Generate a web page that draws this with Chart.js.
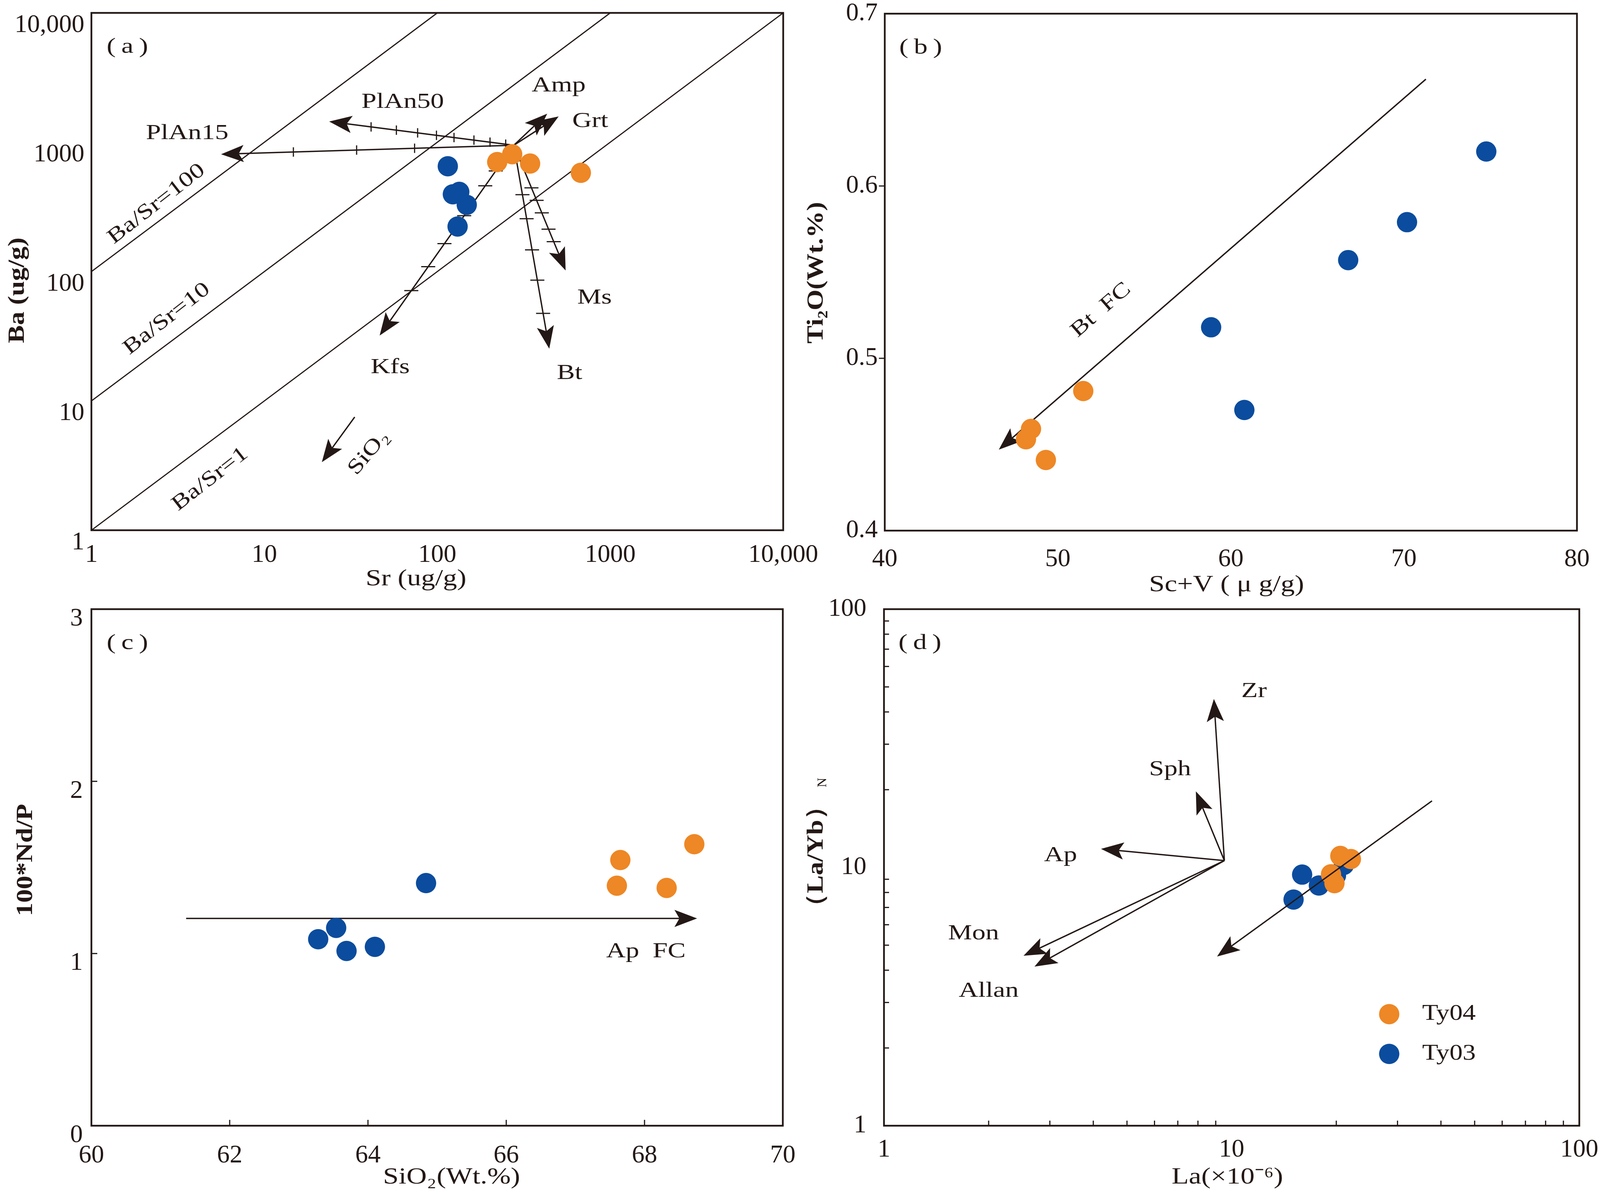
<!DOCTYPE html>
<html>
<head>
<meta charset="utf-8">
<script src="https://cdn.jsdelivr.net/npm/chart.js@4.4.1/dist/chart.umd.min.js"></script>
<style>
html, body { margin: 0; padding: 0; background: #fff; }
#wrap { position: relative; width: 4109px; height: 3066px; background: #fff; overflow: hidden; }
canvas { position: absolute; }
</style>
</head>
<body>
<div id="wrap">
  <canvas id="ca" width="2200" height="1533" style="left:0;top:0;width:2200px;height:1533px"></canvas>
  <canvas id="cb" width="2055" height="1533" style="left:2054px;top:0;width:2055px;height:1533px"></canvas>
  <canvas id="cc" width="2054" height="1533" style="left:0;top:1533px;width:2054px;height:1533px"></canvas>
  <canvas id="cd" width="2055" height="1533" style="left:2054px;top:1533px;width:2055px;height:1533px"></canvas>
</div>
<script>
var SERIF = '"Liberation Serif", "Times New Roman", serif';
Chart.defaults.font.family = SERIF;
Chart.defaults.color = '#231815';

var INK = '#231815';
var ORANGE = '#EE8725';
var BLUE = '#0B4C9E';

// ---- (a) Sr vs Ba ----
var aTicks = [1, 10, 100, 1000, 10000];
var aTickLabels = ['1', '10', '100', '1000', '10,000'];
var aTy04Sr = [222, 271, 344, 676];
var aTy04Ba = [703, 808, 684, 580];
var aTy03Sr = [115, 123, 134, 148, 131];
var aTy03Ba = [652, 396, 413, 328, 223];
var aRatios = [1, 10, 100];
var aVecStart = [277, 948];
var aVecNames = ['PlAn15', 'PlAn50', 'Amp', 'Grt', 'Kfs', 'Bt', 'Ms'];
var aVecEndSr = [5.62, 23.7, 432, 503, 46.4, 444, 552];
var aVecEndBa = [808, 1446, 1663, 1583, 32.0, 25.3, 102];
var aVecTicks = [
  [0.339, 0.537, 0.753],
  [0.044, 0.129, 0.216, 0.324, 0.419, 0.521, 0.636, 0.773],
  [], [],
  [0.135, 0.213, 0.37, 0.517, 0.638, 0.764],
  [0.243, 0.361, 0.514, 0.663, 0.826],
  [0.34, 0.44, 0.54, 0.67, 0.77]
];
var aLabelText = ['PlAn15', 'PlAn50', 'Amp', 'Grt', 'Kfs', 'Bt', 'Ms', 'Ba/Sr=100', 'Ba/Sr=10', 'Ba/Sr=1', 'SiO₂'];
var aLabelSr = [3.58, 63.1, 503, 766, 53.4, 582, 811, 2.38, 2.73, 4.86, 40.1];
var aLabelBa = [1167, 2032, 2735, 1446, 18.1, 16.3, 62.6, 333, 43.1, 2.48, 3.97];
var aLabelRot = [0, 0, 0, 0, 0, 0, 0, -38, -38, -38, -50];
var aSiO2Arrow = [33.3, 7.51, 21.5, 3.36];

// ---- (b) Sc+V vs TiO2 ----
var bXTicks = [40, 50, 60, 70, 80];
var bYTicks = [0.4, 0.5, 0.6, 0.7];
var bTy04X = [51.47, 48.45, 48.16, 49.31];
var bTy04Y = [0.481, 0.459, 0.453, 0.441];
var bTy03X = [58.86, 60.78, 66.78, 70.18, 74.76];
var bTy03Y = [0.518, 0.470, 0.557, 0.579, 0.620];
var bArrow = [71.27, 0.662, 46.59, 0.447];
var bLabel = ['Bt  FC', 52.5, 0.528, -41];

// ---- (c) SiO2 vs 100*Nd/P ----
var cXTicks = [60, 62, 64, 66, 68, 70];
var cYTicks = [0, 1, 2, 3];
var cTy04X = [67.65, 67.60, 68.32, 68.72];
var cTy04Y = [1.543, 1.394, 1.381, 1.635];
var cTy03X = [63.28, 63.54, 63.69, 64.10, 64.84];
var cTy03Y = [1.083, 1.149, 1.015, 1.039, 1.409];
var cArrow = [61.37, 1.204, 68.76, 1.204];
var cLabel = ['Ap  FC', 68.02, 1.01, 0];

// ---- (d) La vs (La/Yb)N ----
var dTicks = [1, 10, 100];
var dMinor = [2, 3, 4, 5, 6, 7, 8, 9, 20, 30, 40, 50, 60, 70, 80, 90];
var dTy04La = [20.54, 22.03, 19.31, 19.76];
var dTy04LaYb = [11.08, 10.78, 9.41, 8.69];
var dTy03La = [15.95, 17.82, 15.07, 19.96, 21.03];
var dTy03LaYb = [9.38, 8.51, 7.51, 9.31, 10.23];
var dFanStart = [9.53, 10.63];
var dFanNames = ['Zr', 'Sph', 'Ap', 'Mon', 'Allan'];
var dFanEndLa = [8.89, 7.89, 4.21, 2.52, 2.71];
var dFanEndLaYb = [44.9, 19.7, 11.8, 4.55, 4.13];
var dFanLabelLa = [11.6, 6.65, 3.22, 1.81, 2.0];
var dFanLabelLaYb = [48.0, 23.9, 11.1, 5.53, 3.32];
var dTrend = [37.7, 18.1, 9.08, 4.52];

function pts(xs, ys) {
  return xs.map(function (x, i) { return { x: x, y: ys[i] }; });
}

function dots(label, xs, ys, color) {
  return {
    label: label, data: pts(xs, ys),
    pointRadius: 26, pointHoverRadius: 26,
    pointBackgroundColor: color, pointBorderWidth: 0, borderColor: color
  };
}

function axis(which, a) {
  return {
    type: a.log ? 'logarithmic' : 'linear',
    position: which === 'x' ? 'bottom' : 'left',
    min: a.min, max: a.max,
    grid: { display: false, drawTicks: false },
    border: { display: false },
    ticks: {
      font: { family: SERIF, size: 65 }, color: INK, padding: a.pad, autoSkip: false, maxRotation: 0,
      labelOffset: a.shift || 0,
      callback: function (v, i) { return a.labels[i]; }
    },
    afterBuildTicks: function (s) { s.ticks = a.ticks.map(function (v) { return { value: v }; }); },
    afterFit: function (s) {
      if (which === 'x') s.height = a.size; else s.width = a.size;
      s.paddingLeft = 0; s.paddingRight = 0; s.paddingTop = 0; s.paddingBottom = 0;
    },
    title: { display: false }
  };
}

function txt(ctx, t, x, y, rotDeg, font, hs) {
  ctx.save();
  ctx.translate(x, y);
  ctx.rotate((rotDeg || 0) * Math.PI / 180);
  ctx.scale(hs || 1, 1);
  ctx.font = font;
  ctx.fillText(t, 0, 0);
  ctx.restore();
}

function arrowHead(ctx, x0, y0, x1, y1) {
  var dx = x1 - x0, dy = y1 - y0, L = Math.sqrt(dx * dx + dy * dy);
  var ux = dx / L, uy = dy / L, nx = -uy, ny = ux;
  var len = 58, half = 22;
  var bx = x1 - ux * len, by = y1 - uy * len;
  ctx.beginPath();
  ctx.moveTo(x1, y1);
  ctx.lineTo(bx + nx * half, by + ny * half);
  ctx.lineTo(x1 - ux * len * 0.78, y1 - uy * len * 0.78);
  ctx.lineTo(bx - nx * half, by - ny * half);
  ctx.closePath();
  ctx.fill();
  return [x1 - ux * len * 0.78, y1 - uy * len * 0.78];
}

var LABEL_FONT = '54px ' + SERIF;
var LABEL_HS = 1.28;

function drawOverlay(chart, o, front) {
  var ctx = chart.ctx, xs = chart.scales.x, ys = chart.scales.y, ca = chart.chartArea;
  var px = function (v) { return xs.getPixelForValue(v); };
  var py = function (v) { return ys.getPixelForValue(v); };
  ctx.save();
  ctx.strokeStyle = INK;
  ctx.fillStyle = INK;
  ctx.lineCap = 'butt';

  (o.arrows || []).forEach(function (ar) {
    if (!!ar.front !== front) return;
    var x0 = px(ar.x0), y0 = py(ar.y0), x1 = px(ar.x1), y1 = py(ar.y1);
    var base = arrowHead(ctx, x0, y0, x1, y1);
    ctx.lineWidth = 3.5;
    ctx.beginPath(); ctx.moveTo(x0, y0); ctx.lineTo(base[0], base[1]); ctx.stroke();
    var horiz = Math.abs(x1 - x0) > Math.abs(y1 - y0);
    (ar.ticks || []).forEach(function (f) {
      var tx = x0 + f * (x1 - x0), ty = y0 + f * (y1 - y0);
      ctx.lineWidth = 3;
      ctx.beginPath();
      if (horiz) { ctx.moveTo(tx, ty - 12); ctx.lineTo(tx, ty + 12); }
      else { ctx.moveTo(tx - 18, ty); ctx.lineTo(tx + 18, ty); }
      ctx.stroke();
    });
  });

  if (front) {
    // axis tick marks
    var tm = o.tickMarks;
    if (tm) {
      ctx.lineWidth = 3;
      var dir = tm.inward ? 1 : -1;
      (tm.x || []).forEach(function (v) {
        var x = px(v);
        ctx.beginPath(); ctx.moveTo(x, ca.bottom); ctx.lineTo(x, ca.bottom - dir * tm.len); ctx.stroke();
      });
      (tm.y || []).forEach(function (v) {
        var y = py(v);
        ctx.beginPath(); ctx.moveTo(ca.left, y); ctx.lineTo(ca.left + dir * tm.len, y); ctx.stroke();
      });
    }
    // frame
    ctx.lineWidth = 4.5;
    ctx.strokeRect(ca.left, ca.top, ca.right - ca.left, ca.bottom - ca.top);

    ctx.textAlign = 'center';
    ctx.textBaseline = 'middle';
    // in-plot labels
    (o.labels || []).forEach(function (lb) {
      txt(ctx, lb.t, px(lb.x), py(lb.y), lb.rot, LABEL_FONT, LABEL_HS);
    });

    // panel tag
    txt(ctx, o.tag, ca.left + 92, ca.top + 88, 0, '54px ' + SERIF, 1.3);

    // axis titles
    var xt = o.xTitle, yt = o.yTitle;
    txt(ctx, xt[0], xt[1], xt[2], 0, (xt[3] ? 'bold ' : '') + '60px ' + SERIF, 1.2);
    txt(ctx, yt[0], yt[1], yt[2], -90, (yt[3] ? 'bold ' : '') + '60px ' + SERIF, 1.15);
    if (yt[4]) {
      ctx.save();
      ctx.font = (yt[3] ? 'bold ' : '') + '60px ' + SERIF;
      var tw = ctx.measureText(yt[0]).width * 1.15;
      ctx.translate(yt[1], yt[2]);
      ctx.rotate(-Math.PI / 2);
      ctx.textAlign = 'left';
      ctx.font = '34px ' + SERIF;
      ctx.fillText(yt[4], tw / 2 + 14, 16);
      ctx.restore();
    }

    // legend
    if (o.legend) {
      var w = ca.right - ca.left, h = ca.bottom - ca.top;
      o.legend.forEach(function (lg, i) {
        var ly = ca.top + h * (0.784 + i * 0.077);
        ctx.fillStyle = lg.color;
        ctx.beginPath(); ctx.arc(ca.left + w * 0.7266, ly, 26, 0, Math.PI * 2); ctx.fill();
        ctx.fillStyle = INK;
        ctx.textAlign = 'left';
        txt(ctx, lg.label, ca.left + w * 0.774, ly, 0, '56px ' + SERIF, 1.2);
      });
    }
  }
  ctx.restore();
}

function makeChart(id, cfg) {
  return new Chart(document.getElementById(id), {
    type: 'scatter',
    data: { datasets: cfg.datasets },
    options: {
      responsive: false, animation: false, devicePixelRatio: 1,
      layout: { padding: { top: cfg.top, right: cfg.right, left: 0, bottom: 0 } },
      plugins: { legend: { display: false }, tooltip: { enabled: false } },
      scales: { x: axis('x', cfg.x), y: axis('y', cfg.y) }
    },
    plugins: [{
      id: 'overlay',
      beforeDatasetsDraw: function (chart) { drawOverlay(chart, cfg.overlay, false); },
      afterDatasetsDraw: function (chart) { drawOverlay(chart, cfg.overlay, true); }
    }]
  });
}

// ---------- panel (a) ----------
var aDatasets = [dots('Ty04', aTy04Sr, aTy04Ba, ORANGE), dots('Ty03', aTy03Sr, aTy03Ba, BLUE)];
aRatios.forEach(function (r) {
  aDatasets.push({
    data: [{ x: 1, y: r }, { x: 10000 / r, y: 10000 }],
    showLine: true, pointRadius: 0, borderColor: INK, borderWidth: 3
  });
});
var aArrows = aVecNames.map(function (n, i) {
  return { x0: aVecStart[0], y0: aVecStart[1], x1: aVecEndSr[i], y1: aVecEndBa[i], ticks: aVecTicks[i] };
});
aArrows.push({ x0: aSiO2Arrow[0], y0: aSiO2Arrow[1], x1: aSiO2Arrow[2], y1: aSiO2Arrow[3] });
makeChart('ca', {
  datasets: aDatasets, top: 33, right: 195,
  x: { log: true, min: 1, max: 10000, ticks: aTicks, labels: aTickLabels, pad: 25, size: 176 },
  y: { log: true, min: 1, max: 10000, ticks: aTicks, labels: aTickLabels, pad: 18, size: 234, shift: 32 },
  overlay: {
    tag: '(\u2009a\u2009)', arrows: aArrows,
    labels: aLabelText.map(function (t, i) { return { t: t, x: aLabelSr[i], y: aLabelBa[i], rot: aLabelRot[i] }; }),
    xTitle: ['Sr (ug/g)', 1065, 1482, false],
    yTitle: ['Ba (ug/g)', 45, 743, true]
  }
});

// ---------- panel (b) ----------
makeChart('cb', {
  datasets: [dots('Ty04', bTy04X, bTy04Y, ORANGE), dots('Ty03', bTy03X, bTy03Y, BLUE)],
  top: 35, right: 72,
  x: { min: 40, max: 80, ticks: bXTicks, labels: bXTicks.map(String), pad: 35, size: 175 },
  y: { min: 0.4, max: 0.7, ticks: bYTicks, labels: bYTicks.map(function (v) { return v.toFixed(1); }), pad: 18, size: 211 },
  overlay: {
    tag: '(\u2009b\u2009)',
    arrows: [{ x0: bArrow[0], y0: bArrow[1], x1: bArrow[2], y1: bArrow[3] }],
    labels: [{ t: bLabel[0], x: bLabel[1], y: bLabel[2], rot: bLabel[3] }],
    tickMarks: { y: [0.5, 0.6], len: 15, inward: false },
    xTitle: ['Sc+V ( μ g/g)', 1086, 1497, false],
    yTitle: ['Ti₂O(Wt.%)', 36, 698, true]
  }
});

// ---------- panel (c) ----------
makeChart('cc', {
  datasets: [dots('Ty04', cTy04X, cTy04Y, ORANGE), dots('Ty03', cTy03X, cTy03Y, BLUE)],
  top: 25, right: 50,
  x: { min: 60, max: 70, ticks: cXTicks, labels: cXTicks.map(String), pad: 38, size: 185 },
  y: { min: 0, max: 3, ticks: cYTicks, labels: cYTicks.map(String), pad: 22, size: 234, shift: 25 },
  overlay: {
    tag: '(\u2009c\u2009)',
    arrows: [{ x0: cArrow[0], y0: cArrow[1], x1: cArrow[2], y1: cArrow[3] }],
    labels: [{ t: cLabel[0], x: cLabel[1], y: cLabel[2], rot: cLabel[3] }],
    tickMarks: { x: [62, 64, 66, 68], y: [1, 2], len: 15, inward: true },
    xTitle: ['SiO₂(Wt.%)', 1156, 1480, false],
    yTitle: ['100*Nd/P', 66, 668, true]
  }
});

// ---------- panel (d) ----------
var dArrows = dFanNames.map(function (n, i) {
  return { x0: dFanStart[0], y0: dFanStart[1], x1: dFanEndLa[i], y1: dFanEndLaYb[i] };
});
dArrows.push({ x0: dTrend[0], y0: dTrend[1], x1: dTrend[2], y1: dTrend[3], front: true });
makeChart('cd', {
  datasets: [dots('Ty04', dTy04La, dTy04LaYb, ORANGE), dots('Ty03', dTy03La, dTy03LaYb, BLUE)],
  top: 25, right: 66,
  x: { log: true, min: 1, max: 100, ticks: dTicks, labels: dTicks.map(String), pad: 23, size: 185 },
  y: { log: true, min: 1, max: 100, ticks: dTicks, labels: dTicks.map(String), pad: 45, size: 209 },
  overlay: {
    tag: '(\u2009d\u2009)', arrows: dArrows,
    labels: dFanNames.map(function (t, i) { return { t: t, x: dFanLabelLa[i], y: dFanLabelLaYb[i], rot: 0 }; }),
    tickMarks: { x: dMinor, y: dMinor, len: 13, inward: true },
    legend: [{ label: 'Ty04', color: ORANGE }, { label: 'Ty03', color: BLUE }],
    xTitle: ['La(×10⁻⁶)', 1088, 1480, false],
    yTitle: ['（La/Yb）', 36, 659, true, 'N']
  }
});
</script>
</body>
</html>
